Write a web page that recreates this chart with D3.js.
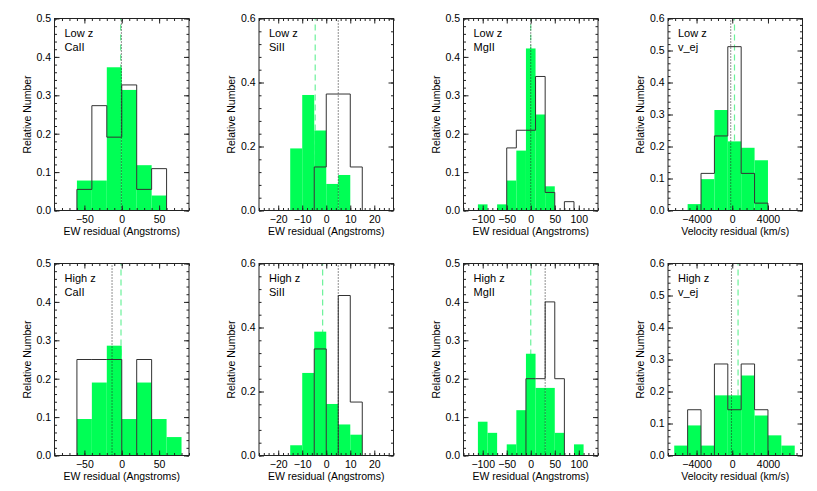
<!DOCTYPE html>
<html>
<head>
<meta charset="utf-8">
<script src="https://cdn.jsdelivr.net/npm/d3@7/dist/d3.min.js"></script>
<style>
  body { margin: 0; background: #fff; }
  svg { display: block; font-family: "Liberation Sans", Arial, Helvetica, sans-serif; }
</style>
</head>
<body>
<svg id="chart" width="817" height="491"></svg>
<script>
// panel labels
const rowNames  = ["Low z", "High z"];
const lineNames = ["CaII", "SiII", "MgII", "v_ej"];
const xTitles   = ["EW residual (Angstroms)", "EW residual (Angstroms)",
                   "EW residual (Angstroms)", "Velocity residual (km/s)"];

// axis ranges and ticks (one entry per column)
const xDomains   = [[-90, 90], [-28, 28], [-140, 140], [-7200, 7870]];
const xMajor     = [[-50, 0, 50], [-20, -10, 0, 10, 20], [-100, -50, 0, 50, 100], [-4000, 0, 4000]];
const xMinorStep = [10, 2, 10, 800];
const yMax       = [0.5, 0.6, 0.5, 0.6];
const yMajorStep = [0.1, 0.2, 0.1, 0.1];
const yMinorStep = [0.02, 0.04, 0.02, 0.02];
const binWidth   = [20, 5, 20, 1500];

// low z histograms: filled (green) and outline (black), with first bin edge
const lowFillStart = [-60, -15, -110, -5000];
const lowFill = [
  [0.078, 0.078, 0.373, 0.314, 0.118, 0.039],
  [0.194, 0.361, 0.250, 0.083, 0.111],
  [0.016, 0, 0.016, 0.078, 0.156, 0.422, 0.250, 0.063],
  [0.020, 0.098, 0.314, 0.216, 0.196, 0.157]
];
const lowLineStart = [-60, -5, -50, -3500];
const lowLine = [
  [0.055, 0.273, 0.191, 0.327, 0.055, 0.109],
  [0.136, 0.364, 0.364, 0.136],
  [0.163, 0.209, 0.209, 0.349, 0.047, 0, 0.023],
  [0.116, 0.233, 0.512, 0.116, 0.023]
];

// high z histograms
const highFillStart = [-60, -15, -110, -6500];
const highFill = [
  [0.095, 0.190, 0.286, 0.095, 0.190, 0.095, 0.048],
  [0.032, 0.258, 0.387, 0.161, 0.097, 0.065],
  [0.088, 0.059, 0, 0.029, 0.118, 0.265, 0.176, 0.176, 0.059, 0, 0.029],
  [0.031, 0.094, 0.031, 0.188, 0.188, 0.250, 0.125, 0.063, 0.031]
];
const highLineStart = [-60, -5, -10, -5000];
const highLine = [
  [0.25, 0.25, 0.25, 0, 0.25],
  [0.333, 0, 0.5, 0.167],
  [0.2, 0.2, 0.4, 0.2],
  [0.143, 0, 0.286, 0.143, 0.286, 0.143]
];

// mean markers: dotted black (outline sample), dashed green (filled sample)
const lowDotted  = [-0.5, 5, 0, -170];
const lowDashed  = [-1.5, -4.6, 0, 250];
const highDotted = [-13, 5, 30, -90];
const highDashed = [-1, -1.5, 0, 650];

const rows = [
  { fill: lowFill,  fillStart: lowFillStart,  line: lowLine,  lineStart: lowLineStart,
    dotted: lowDotted,  dashed: lowDashed },
  { fill: highFill, fillStart: highFillStart, line: highLine, lineStart: highLineStart,
    dotted: highDotted, dashed: highDashed }
];

const svg = d3.select("#chart");
const pw = 134.5, ph = 192;
const colLeft = [54.5, 259, 463.5, 668];
const rowTop  = [18.5, 263.5];

const GREEN = "#00ff55";

function minorTicks(domain, step) {
  const out = [];
  const start = Math.ceil(domain[0] / step - 1e-9);
  const end   = Math.floor(domain[1] / step + 1e-9);
  for (let k = start; k <= end; k++) out.push(+(k * step).toFixed(6));
  return out;
}

rows.forEach((row, r) => {
  lineNames.forEach((name, c) => {
    const g = svg.append("g")
      .attr("transform", `translate(${colLeft[c]},${rowTop[r]})`);

    const x = d3.scaleLinear().domain(xDomains[c]).range([0, pw]);
    const y = d3.scaleLinear().domain([0, yMax[c]]).range([ph, 0]);
    const w = binWidth[c];

    g.append("defs").append("clipPath").attr("id", `clip${r}${c}`)
      .append("rect").attr("width", pw).attr("height", ph);
    const plot = g.append("g").attr("clip-path", `url(#clip${r}${c})`);

    // dashed green mean (drawn under the bars)
    plot.append("line")
      .attr("x1", x(row.dashed[c])).attr("x2", x(row.dashed[c]))
      .attr("y1", y(0)).attr("y2", y(yMax[c]))
      .attr("stroke", "#6cf29a")
      .attr("stroke-width", 1.2)
      .attr("stroke-dasharray", "6,4");

    // filled histogram
    plot.selectAll("rect.bar")
      .data(row.fill[c].map((v, i) => ({ x0: row.fillStart[c] + i * w, x1: row.fillStart[c] + (i + 1) * w, v })))
      .join("rect")
        .attr("class", "bar")
        .attr("x", d => x(d.x0))
        .attr("width", d => x(d.x1) - x(d.x0))
        .attr("y", d => y(d.v))
        .attr("height", d => y(0) - y(d.v))
        .attr("fill", GREEN);

    // outline histogram as a step line
    const pts = [[row.lineStart[c], 0]];
    row.line[c].forEach((v, i) => {
      pts.push([row.lineStart[c] + i * w, v]);
      pts.push([row.lineStart[c] + (i + 1) * w, v]);
    });
    pts.push([row.lineStart[c] + row.line[c].length * w, 0]);
    plot.append("path")
      .attr("d", d3.line().x(d => x(d[0])).y(d => y(d[1]))(pts))
      .attr("fill", "none")
      .attr("stroke", "#333")
      .attr("stroke-width", 1);

    // dotted black mean
    plot.append("line")
      .attr("x1", x(row.dotted[c])).attr("x2", x(row.dotted[c]))
      .attr("y1", y(0)).attr("y2", y(yMax[c]))
      .attr("stroke", "#222")
      .attr("stroke-width", 1)
      .attr("stroke-dasharray", "1,2");

    // axes: IDL style ticks inside on all sides
    const yMajorTicks = minorTicks([0, yMax[c]], yMajorStep[c]);
    const yMinor = minorTicks([0, yMax[c]], yMinorStep[c]);
    const xMinor = minorTicks(xDomains[c], xMinorStep[c]);

    const axes = [
      g.append("g").attr("transform", `translate(0,${ph})`)
        .call(d3.axisBottom(x).tickValues(xMajor[c]).tickSize(-5).tickPadding(5)
          .tickFormat(d3.format("d"))),
      g.append("g").attr("transform", `translate(0,${ph})`)
        .call(d3.axisBottom(x).tickValues(xMinor).tickSize(-2.5).tickFormat("")),
      g.append("g")
        .call(d3.axisTop(x).tickValues(xMajor[c]).tickSize(-5).tickFormat("")),
      g.append("g")
        .call(d3.axisTop(x).tickValues(xMinor).tickSize(-2.5).tickFormat("")),
      g.append("g")
        .call(d3.axisLeft(y).tickValues(yMajorTicks).tickSize(-5).tickPadding(3.5)
          .tickFormat(d3.format(".1f"))),
      g.append("g")
        .call(d3.axisLeft(y).tickValues(yMinor).tickSize(-2.5).tickFormat("")),
      g.append("g").attr("transform", `translate(${pw},0)`)
        .call(d3.axisRight(y).tickValues(yMajorTicks).tickSize(-5).tickFormat("")),
      g.append("g").attr("transform", `translate(${pw},0)`)
        .call(d3.axisRight(y).tickValues(yMinor).tickSize(-2.5).tickFormat(""))
    ];
    axes.forEach(a => {
      a.select(".domain").remove();
      a.selectAll("line").attr("stroke", "#222");
      a.selectAll("text")
        .attr("fill", "#000")
        .style("font-size", "10.5px")
        .style("font-family", "'Liberation Sans', Arial, sans-serif");
    });

    // frame
    g.append("rect")
      .attr("width", pw).attr("height", ph)
      .attr("fill", "none")
      .attr("stroke", "#222")
      .attr("stroke-width", 1);

    // axis titles
    g.append("text")
      .attr("x", pw / 2)
      .attr("y", ph + 24)
      .attr("text-anchor", "middle")
      .style("font-size", "10.5px")
      .text(xTitles[c]);
    g.append("text")
      .attr("transform", `translate(-24,${ph / 2}) rotate(-90)`)
      .attr("text-anchor", "middle")
      .style("font-size", "10.5px")
      .text("Relative Number");

    // panel labels
    g.append("text").attr("x", 10).attr("y", 18)
      .style("font-size", "11px").text(rowNames[r]);
    g.append("text").attr("x", 10).attr("y", 32.5)
      .style("font-size", "11px").text(name);
  });
});
</script>
</body>
</html>
